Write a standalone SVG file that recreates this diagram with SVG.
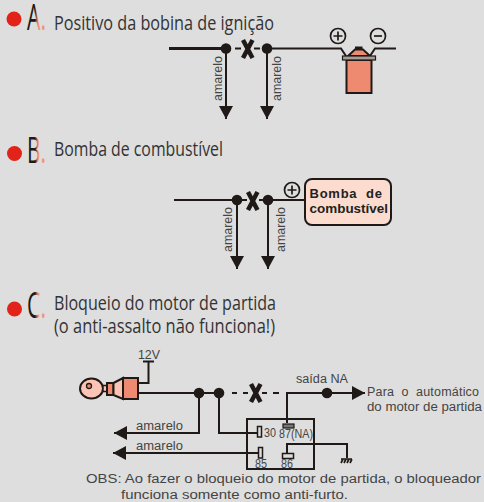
<svg xmlns="http://www.w3.org/2000/svg" width="484" height="502" viewBox="0 0 484 502">
<style>
.h{font-family:"Open Sans","Noto Sans",sans-serif;font-size:19.5px;fill:#333;}
.t{font-family:"Liberation Sans",Arial,sans-serif;font-size:12.5px;fill:#444;}
.b{font-family:"Liberation Sans",Arial,sans-serif;font-size:13px;font-weight:bold;fill:#222;}
.l{font-family:"Open Sans","Noto Sans",sans-serif;font-size:37px;}
.w{fill:none;stroke:#1f1a17;stroke-width:2;}
.w3{fill:none;stroke:#1f1a17;stroke-width:3;}
.x{fill:none;stroke:#1f1a17;stroke-width:4.500;}
.d{fill:#1f1a17;}
.o{fill:#ee8a70;stroke:#1f1a17;stroke-width:2;}
.s{fill:none;stroke:#1f1a17;stroke-width:1.700;}
.r{fill:#e2231a;}
</style>
<defs>
<linearGradient id="lg"><stop offset="0.42" stop-color="#1f1a17"/><stop offset="0.58" stop-color="#f0937a"/></linearGradient>
<marker id="ah" markerUnits="userSpaceOnUse" markerWidth="14" markerHeight="14" refX="13" refY="7" orient="auto"><path d="M0,0L13,7L0,14Z" class="d"/></marker>
<g id="plus"><circle r="7.500" class="s"/><path d="M-4.500,0H4.500M0,-4.500V4.500" class="s"/></g>
</defs>
<rect width="484" height="502" fill="#dedede"/>

<g id="heading-a">
<circle class="r" cx="14" cy="19" r="7.500"/>
<text class="l" x="27" y="30" fill="url(#lg)" textLength="19" lengthAdjust="spacingAndGlyphs">A.</text>
<text class="h" x="54" y="29.500" textLength="220" lengthAdjust="spacingAndGlyphs">Positivo da bobina de ignição</text>
</g>
<g id="heading-b">
<circle class="r" cx="14.500" cy="153.500" r="7.500"/>
<text class="l" x="27" y="163" fill="url(#lg)" textLength="19" lengthAdjust="spacingAndGlyphs">B.</text>
<text class="h" x="54" y="156" textLength="169" lengthAdjust="spacingAndGlyphs">Bomba de combustível</text>
</g>
<g id="heading-c">
<circle class="r" cx="14.500" cy="309" r="7.500"/>
<text class="l" x="27" y="318" fill="url(#lg)" textLength="19" lengthAdjust="spacingAndGlyphs">C.</text>
<text class="h" x="54" y="310" textLength="222" lengthAdjust="spacingAndGlyphs">Bloqueio do motor de partida</text>
<text class="h" x="54" y="333" textLength="221" lengthAdjust="spacingAndGlyphs">(o anti-assalto não funciona!)</text>
</g>

<g id="connectors">
<path class="w3" d="M169,48.500H226"/>
<path class="w" d="M267,48.500H341L346,56M370,56L375,48.500H396"/>
<path class="w" d="M235,48.500H241M254,48.500H260"/>
<path class="w" d="M226,48.500V119" marker-end="url(#ah)"/>
<path class="w" d="M267,48.500V119" marker-end="url(#ah)"/>
<path class="w" d="M174,200H237M268,200H305M242,200H247M259,200H264"/>
<path class="w" d="M237,200V269" marker-end="url(#ah)"/>
<path class="w" d="M268,200V269" marker-end="url(#ah)"/>
<path class="w" d="M138,383H148.500V361.500M143,361.500H154"/>
<path class="w" d="M138,393H219M232,393H237M243,393H248M262,393H267M273,393H279"/>
<path class="w" d="M287,423V393H365" marker-end="url(#ah)"/>
<path class="w" d="M199,393V433H114" marker-end="url(#ah)"/>
<path class="w" d="M219,393V433H257"/>
<path class="w" d="M258,453H113" marker-end="url(#ah)"/>
<path class="w" d="M287,453V444H347V458"/>
<path class="s" d="M341,459H352M343,459L341,463M346,459L344,463M349,459L347,463M352,459L350,463"/>
</g>

<g id="dots-a"><circle class="d" cx="226" cy="48.500" r="5.300"/><circle class="d" cx="267" cy="48.500" r="5.300"/></g>
<g id="dots-b"><circle class="d" cx="237" cy="200" r="5.300"/><circle class="d" cx="268" cy="200" r="5.300"/></g>
<g id="dots-c"><circle class="d" cx="199" cy="393" r="5.300"/><circle class="d" cx="219" cy="393" r="5.300"/><circle class="d" cx="327" cy="393" r="5.300"/></g>

<g id="cut-a"><path class="x" d="M243,40L252.500,58M252.500,40L243,58"/></g>
<g id="cut-b"><path class="x" d="M248,192L257.500,210M257.500,192L248,210"/></g>
<g id="cut-c"><path class="x" d="M251,384L260.500,402M260.500,384L251,402"/></g>

<g id="labels-a">
<text class="t" transform="translate(222,101) rotate(-90)" textLength="45" lengthAdjust="spacingAndGlyphs">amarelo</text>
<text class="t" transform="translate(281,101) rotate(-90)" textLength="45" lengthAdjust="spacingAndGlyphs">amarelo</text>
</g>
<g id="labels-b">
<text class="t" transform="translate(231.500,252) rotate(-90)" textLength="45" lengthAdjust="spacingAndGlyphs">amarelo</text>
<text class="t" transform="translate(285,252) rotate(-90)" textLength="45" lengthAdjust="spacingAndGlyphs">amarelo</text>
</g>

<g id="coil">
<use href="#plus" x="338" y="36"/>
<circle cx="378" cy="36" r="7.500" class="s"/><path d="M374,36H382" class="s"/>
<rect class="o" x="346.500" y="60" width="25" height="33"/>
<path class="o" d="M348,56L355,49.500H363L370,56Z"/>
<rect class="d" x="355" y="46.500" width="7.500" height="3"/>
<rect x="342.500" y="56" width="33" height="4" fill="#a89a94" stroke="#1f1a17" stroke-width="1.200"/>
</g>

<g id="bomba">
<use href="#plus" x="292" y="190"/>
<rect x="305" y="179" width="86" height="46" rx="7" fill="#fcdccf" stroke="#1f1a17" stroke-width="2"/>
<text class="b" x="309.500" y="198" textLength="72.500" lengthAdjust="spacing" xml:space="preserve">Bomba  de</text>
<text class="b" x="309.500" y="213" textLength="78.500" lengthAdjust="spacingAndGlyphs">combustível</text>
</g>

<g id="chave">
<ellipse cx="91.500" cy="388.500" rx="11.500" ry="10" fill="#fbc4b4" stroke="#1f1a17" stroke-width="2"/>
<circle cx="89" cy="386" r="2.500" fill="#ee8a70" stroke="#1f1a17" stroke-width="1.300"/>
<rect x="103" y="385.500" width="4" height="6" fill="#fbc4b4" stroke="#1f1a17" stroke-width="1.500"/>
<rect class="o" x="107" y="383" width="6.500" height="12"/>
<path d="M113.500,383L123,378V399L113.500,395Z" fill="#fbc4b4" stroke="#1f1a17" stroke-width="2"/>
<rect class="o" x="123" y="378" width="15" height="21"/>
</g>
<g id="v12"><text class="t" x="138" y="359" textLength="22" lengthAdjust="spacingAndGlyphs">12V</text></g>

<g id="rele">
<rect x="247" y="419" width="67" height="50" fill="none" stroke="#1f1a17" stroke-width="2"/>
<rect x="283" y="424" width="11" height="4" fill="#777" stroke="#1f1a17" stroke-width="1.200"/>
<rect x="257.500" y="426.500" width="4" height="10.500" fill="#ddd" stroke="#1f1a17" stroke-width="1.500"/>
<rect x="258.500" y="447.500" width="4" height="10.500" fill="#ddd" stroke="#1f1a17" stroke-width="1.500"/>
<rect x="282.500" y="453.500" width="11" height="5" fill="#ddd" stroke="#1f1a17" stroke-width="1.500"/>
<text class="t" x="264" y="437" textLength="12" lengthAdjust="spacingAndGlyphs">30</text>
<text class="t" x="279" y="438" textLength="34" lengthAdjust="spacingAndGlyphs">87(NA)</text>
<text class="t" x="255" y="468" textLength="12" lengthAdjust="spacingAndGlyphs">85</text>
<text class="t" x="281" y="468" textLength="12" lengthAdjust="spacingAndGlyphs">86</text>
</g>

<g id="labels-c">
<text class="t" x="136" y="430" textLength="47" lengthAdjust="spacingAndGlyphs">amarelo</text>
<text class="t" x="136" y="450" textLength="47" lengthAdjust="spacingAndGlyphs">amarelo</text>
<text class="t" x="296" y="383" textLength="52" lengthAdjust="spacingAndGlyphs">saída NA</text>
<text class="t" x="367" y="396" textLength="112" lengthAdjust="spacing" xml:space="preserve">Para  o  automático</text>
<text class="t" x="367" y="411" textLength="115" lengthAdjust="spacingAndGlyphs">do motor de partida</text>
<text class="t" x="86" y="483" textLength="395" lengthAdjust="spacingAndGlyphs">OBS: Ao fazer o bloqueio do motor de partida, o bloqueador</text>
<text class="t" x="121" y="499" textLength="227" lengthAdjust="spacingAndGlyphs">funciona somente como anti-furto.</text>
</g>
</svg>
